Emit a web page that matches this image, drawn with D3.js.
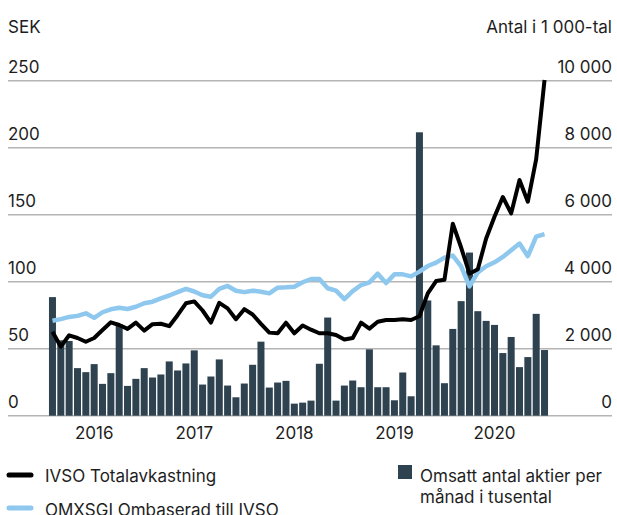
<!doctype html>
<html>
<head>
<meta charset="utf-8">
<script src="https://d3js.org/d3.v7.min.js"></script>
<style>
  body { margin: 0; background: #fff; overflow: hidden; }
  svg { display: block; }
  text { font-family: Inter, "Noto Sans", sans-serif; fill: #1e1e1e; }
</style>
</head>
<body>
<svg id="chart" width="617" height="515"></svg>
<script>
// monthly data, Jan 2016 - Dec 2020
var months = d3.timeMonths(new Date(2016, 0, 1), new Date(2021, 0, 1));

// IVSO Totalavkastning (SEK)
var ivso = [62.7, 51.5, 60, 58, 55.2, 58, 64, 69.7, 67.7, 64.8,
            69.5, 63.5, 68.3, 68.6, 66.8, 75, 83.9, 85.3, 78.5, 69.5,
            84.2, 80.1, 72, 79.5, 75.5, 68.5, 62, 61.5, 69.4, 61.5,
            67.3, 64.2, 61.5, 61.5, 60.2, 56.8, 58, 69.4, 65, 70.1,
            71.4, 71.4, 71.9, 71.4, 74.2, 91.3, 100.5, 101.5, 143.3, 125.5,
            106, 109.3, 132.3, 148.5, 163.2, 151, 175.9, 159.7, 191.5, 250.5];

// OMXSGI ombaserad till IVSO (SEK)
var omx = [70.9, 72.1, 73.7, 74.5, 76.4, 73, 77.2, 79.4, 80.5, 79.6,
           81.3, 83.9, 85.1, 87.6, 89.7, 92.2, 94.6, 92.7, 89.9, 88.8,
           94.6, 96.8, 93.3, 92.2, 93.3, 92.5, 91.3, 95.5, 95.8, 96.3,
           99.6, 102, 102, 95.1, 93.3, 87, 93, 97.5, 99.5, 106,
           99, 105.5, 105.5, 104, 107.5, 111.7, 114.2, 118, 119.5, 111.5,
           96.5, 107, 111.5, 114.5, 118.5, 123.5, 128.5, 119, 133.6, 135.5];

// Omsatt antal aktier per manad (tusental)
var volume = [3540, 2250, 2230, 1420, 1300, 1540, 950, 1270, 2730, 890,
              1100, 1420, 1140, 1230, 1620, 1350, 1560, 1950, 930, 1170,
              1680, 900, 550, 960, 1520, 2210, 840, 990, 1040, 360,
              390, 450, 1550, 2930, 450, 900, 1050, 850, 1980, 850,
              850, 460, 1290, 580, 8460, 3440, 2100, 970, 2590, 3420,
              4870, 3120, 2830, 2710, 1870, 2350, 1450, 1750, 3040, 1960];

var leftTicks = [0, 50, 100, 150, 200, 250];
var rightTicks = [0, 2000, 4000, 6000, 8000, 10000];
var years = [2016, 2017, 2018, 2019, 2020];

var svg = d3.select("#chart");
var plotTop = 80.7, plotBottom = 415.7, gridX0 = 8, gridX1 = 612;
var fs = 17;

var x = d3.scaleBand().domain(d3.range(months.length))
    .range([48.3, 548.7]).paddingInner(0.16).paddingOuter(0.08);
var yL = d3.scaleLinear().domain([0, 250]).range([plotBottom, plotTop]);
var yR = d3.scaleLinear().domain([0, 10000]).range([plotBottom, plotTop]);
var fmt = d3.formatLocale({decimal: ",", thousands: " ", grouping: [3], currency: ["", " kr"]}).format(",d");

// gridlines
svg.append("g").selectAll("line").data(leftTicks).join("line")
    .attr("x1", gridX0).attr("x2", gridX1)
    .attr("y1", d => yL(d)).attr("y2", d => yL(d))
    .attr("stroke", "#b4b4b4").attr("stroke-width", 1.5);

// tick labels
svg.append("g").selectAll("text").data(leftTicks).join("text")
    .attr("x", 8).attr("y", d => yL(d) - 7.5)
    .attr("font-size", fs).text(d => d);
svg.append("g").selectAll("text").data(rightTicks).join("text")
    .attr("x", 612).attr("y", d => yR(d) - 7.5)
    .attr("text-anchor", "end").attr("font-size", fs).text(d => fmt(d));

svg.append("text").attr("x", 8).attr("y", 33).attr("font-size", fs).text("SEK");
svg.append("text").attr("x", 612).attr("y", 33).attr("text-anchor", "end")
    .attr("font-size", fs).text("Antal i 1 000-tal");

// bars
svg.append("g").selectAll("rect").data(volume).join("rect")
    .attr("x", (d, i) => x(i)).attr("width", x.bandwidth())
    .attr("y", d => yR(d)).attr("height", d => plotBottom - yR(d))
    .attr("fill", "#2e4250");

// year labels, centred on June
var xAxis = d3.axisBottom(x)
    .tickValues(years.map(y => months.findIndex(m => m.getFullYear() == y && m.getMonth() == 5)))
    .tickFormat(i => months[i].getFullYear())
    .tickSize(0).tickPadding(0);
var gx = svg.append("g").attr("transform", "translate(0,439)").call(xAxis);
gx.select(".domain").remove();
gx.selectAll("text").attr("dy", 0).attr("y", 0)
    .attr("font-size", fs).attr("font-family", "Inter, 'Noto Sans', sans-serif").attr("fill", "#1e1e1e");

// lines
var line = d3.line().x((d, i) => x(i) + x.bandwidth() / 2).y(d => yL(d));
svg.append("path").datum(omx).attr("d", line)
    .attr("fill", "none").attr("stroke", "#8ec8ee").attr("stroke-width", 4.5)
    .attr("stroke-linejoin", "round");
svg.append("path").datum(ivso).attr("d", line)
    .attr("fill", "none").attr("stroke", "#000").attr("stroke-width", 4)
    .attr("stroke-linejoin", "round");

// legend
var legend = svg.append("g");
legend.append("line").attr("x1", 9).attr("x2", 31).attr("y1", 475).attr("y2", 475)
    .attr("stroke", "#000").attr("stroke-width", 5).attr("stroke-linecap", "round");
legend.append("text").attr("x", 45).attr("y", 482).attr("font-size", fs).text("IVSO Totalavkastning");
legend.append("line").attr("x1", 9).attr("x2", 31).attr("y1", 508).attr("y2", 508)
    .attr("stroke", "#8ec8ee").attr("stroke-width", 5).attr("stroke-linecap", "round");
legend.append("text").attr("x", 45).attr("y", 515.5).attr("font-size", fs).text("OMXSGI Ombaserad till IVSO");
legend.append("rect").attr("x", 398).attr("y", 465).attr("width", 14).attr("height", 14).attr("fill", "#2e4250");
legend.append("text").attr("x", 420).attr("y", 482).attr("font-size", fs).text("Omsatt antal aktier per");
legend.append("text").attr("x", 420).attr("y", 503).attr("font-size", fs).text("månad i tusental");
</script>
</body>
</html>
